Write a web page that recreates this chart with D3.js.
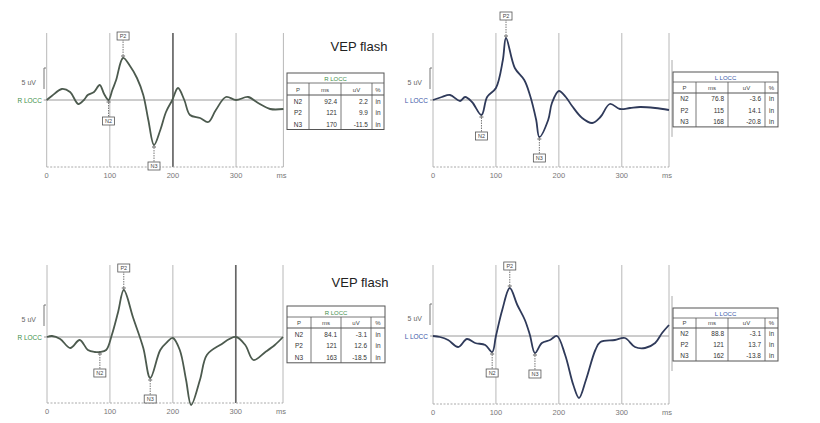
<!DOCTYPE html>
<html><head><meta charset="utf-8">
<script src="https://cdn.jsdelivr.net/npm/d3@7/dist/d3.min.js"></script>
<style>body{margin:0;background:#fff}svg{display:block;font-family:"Liberation Sans",Arial,sans-serif}</style>
</head><body><svg id="c" width="820" height="423"></svg>
<script>
// ---------- DATA ----------
const xTicks = [0, 100, 200, 300];
const xTickLabels = ["0", "100", "200", "300"];
const unitLabel = "ms";
const scaleLabel = "5 uV";
const titleText = "VEP flash";
const tableCols = ["P", "ms", "uV", "%"];

// Panel 1: R LOCC (top)
const p1Time = [0, 8, 24, 37, 50, 59, 65, 75, 84, 91, 98, 104, 110, 121, 132, 143, 153, 161, 170, 180, 189, 199, 208, 218, 227, 243, 256, 268, 284, 300, 319, 335, 354, 375];
const p1Uv   = [0, 1.0, 2.75, 2.0, -1.0, 0, 1.25, 2.0, 3.75, 1.5, 0, 2.5, 5.0, 10.5, 8.5, 5.5, 1.25, -5, -11.25, -7.5, -3, 0, 3.0, 0, -3.75, -4.5, -5.5, -2.5, 0.75, 0, 0.75, -0.75, -2.25, -2.25];
const p1PeakNames = ["N2", "P2", "N3"];
const p1PeakTimes = [98, 121, 170];
const p1TableMs = ["92.4", "121", "170"];
const p1TableUv = ["2.2", "9.9", "-11.5"];

// Panel 2: L LOCC (top)
const p2Time = [0, 14, 27, 43, 51, 62, 77, 86, 100, 111, 116, 130, 145, 154, 164, 169, 183, 189, 200, 211, 221, 237, 253, 266, 281, 297, 313, 329, 353, 375];
const p2Uv   = [0, 0.75, 1.25, -0.25, 0.75, -0.5, -3.75, 0.75, 3.0, 10, 15.5, 8, 5, 1.25, -5, -9.25, -5, -0.75, 2.25, 0.75, -1.5, -4.5, -5.75, -4.25, -1, -2.25, -2, -1.75, -2, -2.5];
const p2PeakNames = ["N2", "P2", "N3"];
const p2PeakTimes = [77, 116, 169];
const p2TableMs = ["76.8", "115", "168"];
const p2TableUv = ["-3.6", "14.1", "-20.8"];

// Panel 3: R LOCC (bottom)
const p3Time = [0, 8, 21, 37, 52, 65, 76, 84, 94, 103, 113, 122, 137, 153, 164, 180, 191, 200, 211, 221, 229, 243, 254, 275, 300, 315, 328, 347, 362, 375];
const p3Uv   = [0, 0.25, -0.5, -2.75, -0.75, -3.25, -3.75, -3.75, -3.25, 0.5, 6.25, 11.75, 4.75, -2.75, -10.25, -3.25, -1.25, -0.25, -3.25, -10.75, -17, -10.75, -4.5, -2, 0, -2, -5.75, -3.75, -2, 0];
const p3PeakNames = ["N2", "P2", "N3"];
const p3PeakTimes = [84, 122, 164];
const p3TableMs = ["84.1", "121", "163"];
const p3TableUv = ["-3.1", "12.6", "-18.5"];

// Panel 4: L LOCC (bottom)
const p4Time = [0, 11, 24, 40, 54, 67, 83, 94, 100, 110, 122, 134, 146, 154, 162, 173, 186, 197, 210, 223, 232, 243, 258, 266, 289, 305, 321, 337, 353, 364, 375];
const p4Uv   = [0, -0.25, -1, -2.75, -0.75, -1.75, -2.25, -4, 0, 6.5, 12, 7.75, 4, 0.25, -4.25, -1.75, -1, 0, -4.75, -12.25, -15.5, -11, -3.5, -1.5, -1, -0.5, -2.75, -3, -1.75, 0.75, 2.75];
const p4PeakNames = ["N2", "P2", "N3"];
const p4PeakTimes = [94, 122, 162];
const p4TableMs = ["88.8", "121", "162"];
const p4TableUv = ["-3.1", "13.7", "-13.8"];

const channelNames = ["R LOCC", "L LOCC", "R LOCC", "L LOCC"];
const tableUnitCol = ["in", "in", "in"];

// ---------- LAYOUT / STYLE ----------
const svg = d3.select("#c");
const panels = [
  {time:p1Time, uv:p1Uv, pk:p1PeakNames, pt:p1PeakTimes, ms:p1TableMs, tv:p1TableUv, ch:channelNames[0],
   x0:46.7, x1:283.4, top:33, bottom:167, base:100, color:"#4c5a4e", chColor:"#3f8f4a", cursor:200,
   tbl:{x:287, y:73, cols:[22,32,31,12], hh:10, ch:12, rh:11.5}, title:{x:359, y:51}, lab:{x:42}},
  {time:p2Time, uv:p2Uv, pk:p2PeakNames, pt:p2PeakTimes, ms:p2TableMs, tv:p2TableUv, ch:channelNames[1],
   x0:433, x1:669, top:33, bottom:167, base:100, color:"#2f3a5a", chColor:"#3b55a8", cursor:null,
   tbl:{x:673, y:72, cols:[23,32,37,13], hh:10, ch:11, rh:11.3}, title:null, lab:{x:428}},
  {time:p3Time, uv:p3Uv, pk:p3PeakNames, pt:p3PeakTimes, ms:p3TableMs, tv:p3TableUv, ch:channelNames[2],
   x0:47, x1:283, top:265, bottom:403, base:337, color:"#4c5a4e", chColor:"#3f8f4a", cursor:300,
   tbl:{x:287, y:306, cols:[24,30,30,14], hh:11, ch:11, rh:11.6}, title:{x:360, y:287}, lab:{x:42}},
  {time:p4Time, uv:p4Uv, pk:p4PeakNames, pt:p4PeakTimes, ms:p4TableMs, tv:p4TableUv, ch:channelNames[3],
   x0:433, x1:669, top:265, bottom:404, base:336, color:"#2f3a5a", chColor:"#3b55a8", cursor:null,
   tbl:{x:673, y:308, cols:[23,32,37,13], hh:10, ch:10, rh:11}, title:null, lab:{x:428}}
];
const pxPerUv = 4;

panels.forEach((p, i) => {
  const g = svg.append("g");
  const x = d3.scaleLinear().domain([0, 375]).range([p.x0, p.x1]);
  const y = d3.scaleLinear().domain([-(p.bottom - p.base) / pxPerUv, (p.base - p.top) / pxPerUv]).range([p.bottom, p.top]);

  // vertical grid
  const gridT = xTicks.concat([375]);
  g.selectAll("line.v").data(gridT).join("line")
    .attr("x1", d => x(d)).attr("x2", d => x(d))
    .attr("y1", p.top).attr("y2", p.bottom)
    .attr("stroke", d => d === p.cursor ? "#666" : "#b8b8b8")
    .attr("stroke-width", d => d === p.cursor ? 1.7 : 1);
  // bottom axis (dotted)
  g.append("line").attr("x1", x(0)).attr("x2", x(375)).attr("y1", p.bottom).attr("y2", p.bottom)
    .attr("stroke", "#aaa").attr("stroke-dasharray", "2,1.5");
  // baseline
  g.append("line").attr("x1", x(0) - 3).attr("x2", x(375)).attr("y1", y(0)).attr("y2", y(0))
    .attr("stroke", "#9a9a9a").attr("stroke-width", 1);

  // x tick labels
  g.selectAll("text.xt").data(xTicks).join("text")
    .attr("x", d => x(d)).attr("y", p.bottom + 11).attr("text-anchor", "middle")
    .attr("font-size", 7.5).attr("fill", "#777").text((d, k) => xTickLabels[k]);
  g.append("text").attr("x", x(375) - 2).attr("y", p.bottom + 11).attr("text-anchor", "middle")
    .attr("font-size", 7.5).attr("fill", "#777").text(unitLabel);

  // scale bracket
  const bx = p.lab.x + 2;
  g.append("path").attr("d", `M${bx + 2},${y(0) - 32}H${bx}V${y(0) - 11}`)
    .attr("fill", "none").attr("stroke", "#777").attr("stroke-width", 1);
  g.append("text").attr("x", p.lab.x - 6).attr("y", y(0) - 15).attr("text-anchor", "end")
    .attr("font-size", 7).attr("fill", "#666").text(scaleLabel);
  g.append("text").attr("x", p.lab.x).attr("y", y(0) + 2.5).attr("text-anchor", "end")
    .attr("font-size", 6.5).attr("fill", p.chColor).text(p.ch);

  // waveform
  const pts = p.time.map((t, k) => [t, p.uv[k]]);
  g.append("path").datum(pts)
    .attr("d", d3.line().x(d => x(d[0])).y(d => y(d[1])).curve(d3.curveCatmullRom.alpha(0.5)))
    .attr("fill", "none").attr("stroke", p.color).attr("stroke-width", 1.8).attr("stroke-linejoin", "round");

  // peak markers
  const interp = t => {
    const k = d3.bisectLeft(p.time, t);
    if (p.time[k] === t) return p.uv[k];
    const t0 = p.time[k - 1], t1 = p.time[k];
    return p.uv[k - 1] + (p.uv[k] - p.uv[k - 1]) * (t - t0) / (t1 - t0);
  };
  p.pk.forEach((name, k) => {
    const t = p.pt[k], v = interp(t);
    const px = x(t), py = y(v);
    const up = name[0] === "P";
    const by = up ? py - 22 : py + 21;
    g.append("line").attr("x1", px).attr("x2", px).attr("y1", py).attr("y2", up ? by + 4 : by - 4)
      .attr("stroke", "#555").attr("stroke-width", 0.8).attr("stroke-dasharray", "1.5,1");
    g.append("line").attr("x1", px - 2).attr("x2", px + 2).attr("y1", py + (up ? -2 : 2)).attr("y2", py + (up ? -2 : 2))
      .attr("stroke", "#333").attr("stroke-width", 0.8);
    g.append("rect").attr("x", px - 6).attr("y", by - 4).attr("width", 12).attr("height", 8)
      .attr("fill", "#fff").attr("stroke", "#555").attr("stroke-width", 0.8);
    g.append("text").attr("x", px).attr("y", by + 2.2).attr("text-anchor", "middle")
      .attr("font-size", 5.5).attr("fill", "#444").text(name);
  });

  // title
  if (p.title) {
    g.append("text").attr("x", p.title.x).attr("y", p.title.y).attr("text-anchor", "middle")
      .attr("font-size", 13).attr("fill", "#222").text(titleText);
  }

  // table
  const T = p.tbl;
  const W = d3.sum(T.cols);
  const H = T.hh + T.ch + 3 * T.rh;
  const tg = g.append("g");
  if (i % 2 === 1) {
    tg.append("line").attr("x1", T.x - 1).attr("x2", T.x - 1).attr("y1", T.y - 12).attr("y2", T.y + H + 10)
      .attr("stroke", "#aaa").attr("stroke-width", 1);
  }
  tg.append("rect").attr("x", T.x).attr("y", T.y).attr("width", W).attr("height", H)
    .attr("fill", "#fff").attr("stroke", "#555").attr("stroke-width", 1);
  tg.append("line").attr("x1", T.x).attr("x2", T.x + W).attr("y1", T.y + T.hh).attr("y2", T.y + T.hh)
    .attr("stroke", "#555").attr("stroke-width", 0.8);
  tg.append("line").attr("x1", T.x).attr("x2", T.x + W).attr("y1", T.y + T.hh + T.ch).attr("y2", T.y + T.hh + T.ch)
    .attr("stroke", "#555").attr("stroke-width", 1);
  const cx = d3.cumsum([0].concat(T.cols)).map(c => T.x + c);
  cx.slice(1, 4).forEach(c => {
    tg.append("line").attr("x1", c).attr("x2", c).attr("y1", T.y + T.hh).attr("y2", T.y + H)
      .attr("stroke", "#555").attr("stroke-width", 0.8);
  });
  tg.append("text").attr("x", T.x + W / 2).attr("y", T.y + T.hh - 2.5).attr("text-anchor", "middle")
    .attr("font-size", 6).attr("fill", p.chColor).text(p.ch);
  tableCols.forEach((c, k) => {
    tg.append("text").attr("x", (cx[k] + cx[k + 1]) / 2).attr("y", T.y + T.hh + T.ch - 3)
      .attr("text-anchor", "middle").attr("font-size", 6).attr("fill", "#444").text(c);
  });
  p.pk.forEach((name, r) => {
    const ry = T.y + T.hh + T.ch + (r + 1) * T.rh - 3;
    const vals = [name, p.ms[r], p.tv[r], tableUnitCol[r]];
    vals.forEach((v, k) => {
      const right = k === 1 || k === 2;
      tg.append("text")
        .attr("x", right ? cx[k + 1] - 4 : (cx[k] + cx[k + 1]) / 2)
        .attr("y", ry).attr("text-anchor", right ? "end" : "middle")
        .attr("font-size", 6.5).attr("fill", "#333").text(v);
    });
  });
});
</script></body></html>
